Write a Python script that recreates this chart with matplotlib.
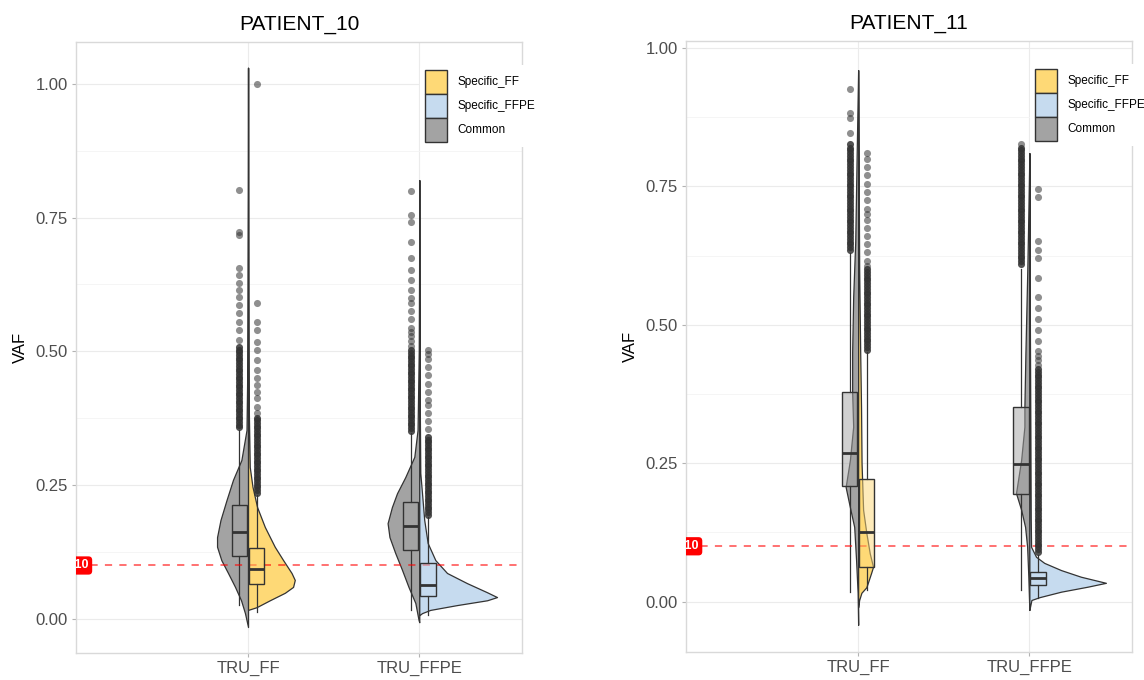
import numpy as np
import matplotlib.pyplot as plt
from matplotlib.patches import Patch, Rectangle
from matplotlib.colors import to_rgba

plt.rcParams['font.family'] = ['Liberation Sans', 'DejaVu Sans']

# categories
patients = ['PATIENT_10', 'PATIENT_11']
samples = ['TRU_FF', 'TRU_FFPE']
groups = ['Specific_FF', 'Specific_FFPE', 'Common']
colors = {'Specific_FF': '#FED976', 'Specific_FFPE': '#C6DBEF', 'Common': '#A3A3A3'}
threshold = 0.10

# half-violin outlines: VAF levels and half-widths (x units)
p10_ff_common_vaf = [1.03, 0.80, 0.60, 0.45, 0.353, 0.297, 0.260, 0.222, 0.185, 0.153, 0.135, 0.110, 0.086, 0.060, 0.035, 0.011, -0.015]
p10_ff_common_w = [0.0, 0.001, 0.003, 0.005, 0.009, 0.039, 0.088, 0.126, 0.161, 0.181, 0.181, 0.156, 0.117, 0.076, 0.041, 0.018, 0.0]
p10_ff_spec_vaf = [1.03, 0.80, 0.60, 0.40, 0.284, 0.247, 0.209, 0.172, 0.135, 0.110, 0.086, 0.073, 0.060, 0.049, 0.035, 0.022, 0.017]
p10_ff_spec_w = [0.0, 0.001, 0.002, 0.004, 0.010, 0.026, 0.053, 0.098, 0.156, 0.205, 0.254, 0.273, 0.263, 0.215, 0.127, 0.049, 0.0]
p10_ffpe_common_vaf = [0.82, 0.65, 0.50, 0.353, 0.303, 0.265, 0.235, 0.209, 0.179, 0.153, 0.123, 0.092, 0.060, 0.030, -0.002, -0.006]
p10_ffpe_common_w = [0.0, 0.001, 0.003, 0.010, 0.029, 0.082, 0.130, 0.160, 0.185, 0.174, 0.140, 0.101, 0.063, 0.023, 0.004, 0.0]
p10_ffpe_spec_vaf = [0.82, 0.60, 0.40, 0.273, 0.235, 0.185, 0.142, 0.110, 0.086, 0.067, 0.050, 0.041, 0.035, 0.026, 0.017, 0.011, 0.007]
p10_ffpe_spec_w = [0.0, 0.001, 0.003, 0.006, 0.016, 0.029, 0.049, 0.094, 0.162, 0.279, 0.396, 0.454, 0.396, 0.220, 0.064, 0.016, 0.0]

p11_ff_common_vaf = [0.96, 0.80, 0.65, 0.55, 0.45, 0.378, 0.316, 0.256, 0.207, 0.166, 0.135, 0.075, 0.016, -0.042]
p11_ff_common_w = [0.0, 0.009, 0.017, 0.029, 0.035, 0.035, 0.029, 0.048, 0.073, 0.045, 0.023, 0.012, 0.003, 0.0]
p11_ff_spec_vaf = [0.96, 0.60, 0.45, 0.35, 0.25, 0.166, 0.124, 0.087, 0.063, 0.052, 0.026, 0.016, 0.003, -0.01]
p11_ff_spec_w = [0.0, 0.006, 0.012, 0.017, 0.020, 0.029, 0.048, 0.068, 0.087, 0.076, 0.048, 0.019, 0.006, 0.0]
p11_ffpe_common_vaf = [0.81, 0.70, 0.60, 0.45, 0.352, 0.316, 0.256, 0.196, 0.166, 0.135, 0.099, 0.045, 0.003, -0.015]
p11_ffpe_common_w = [0.0, 0.006, 0.012, 0.023, 0.029, 0.029, 0.048, 0.078, 0.048, 0.025, 0.013, 0.006, 0.002, 0.0]
p11_ffpe_spec_vaf = [0.81, 0.50, 0.30, 0.15, 0.099, 0.081, 0.070, 0.057, 0.045, 0.034, 0.027, 0.018, 0.008, 0.003, -0.015]
p11_ffpe_spec_w = [0.0, 0.003, 0.006, 0.008, 0.010, 0.039, 0.087, 0.185, 0.301, 0.447, 0.340, 0.185, 0.058, 0.012, 0.0]

# boxplot stats [lower whisker, q1, median, q3, upper whisker] per sample
p10_common_box = [[0.026, 0.118, 0.162, 0.213, 0.353], [0.017, 0.129, 0.174, 0.218, 0.347]]
p10_spec_box = [[0.014, 0.065, 0.093, 0.133, 0.232], [0.007, 0.043, 0.064, 0.104, 0.191]]
p11_common_box = [[0.018, 0.209, 0.268, 0.378, 0.630], [0.021, 0.194, 0.248, 0.352, 0.600]]
p11_spec_box = [[0.021, 0.063, 0.125, 0.222, 0.450], [0.006, 0.030, 0.042, 0.054, 0.084]]

# outliers: densely stacked part and scattered part
p10_ff_common_dense = [0.358, 0.363, 0.368, 0.373, 0.378, 0.383, 0.388, 0.393, 0.398, 0.403, 0.408, 0.413,
                       0.418, 0.423, 0.428, 0.433, 0.438, 0.443, 0.448, 0.453, 0.458, 0.463, 0.468, 0.473,
                       0.478, 0.483, 0.488, 0.493, 0.498, 0.503, 0.508]
p10_ff_common_sparse = [0.521, 0.54, 0.555, 0.572, 0.587, 0.602, 0.615, 0.628, 0.643, 0.656, 0.717, 0.723, 0.801]
p10_ff_spec_dense = [0.236, 0.241, 0.246, 0.251, 0.256, 0.261, 0.266, 0.271, 0.276, 0.281, 0.286, 0.291,
                     0.296, 0.301, 0.306, 0.311, 0.316, 0.321, 0.326, 0.331, 0.336, 0.341, 0.346, 0.351,
                     0.356, 0.361, 0.366, 0.371, 0.376]
p10_ff_spec_sparse = [0.385, 0.396, 0.413, 0.424, 0.437, 0.45, 0.465, 0.484, 0.503, 0.517, 0.54, 0.555, 0.59, 0.999]
p10_ffpe_common_dense = [0.352, 0.357, 0.362, 0.367, 0.372, 0.377, 0.382, 0.387, 0.392, 0.397, 0.402, 0.407,
                         0.412, 0.417, 0.422, 0.427, 0.432, 0.437, 0.442, 0.447, 0.452, 0.457, 0.462, 0.467,
                         0.472, 0.477, 0.482, 0.487, 0.492, 0.497, 0.502]
p10_ffpe_common_sparse = [0.51, 0.52, 0.528, 0.536, 0.544, 0.56, 0.575, 0.59, 0.60, 0.615, 0.633, 0.652,
                          0.675, 0.704, 0.742, 0.755, 0.80]
p10_ffpe_spec_dense = [0.195, 0.2, 0.205, 0.21, 0.215, 0.22, 0.225, 0.23, 0.235, 0.24, 0.245, 0.25,
                       0.255, 0.26, 0.265, 0.27, 0.275, 0.28, 0.285, 0.29, 0.295, 0.3, 0.305, 0.31,
                       0.315, 0.32, 0.325, 0.33, 0.335, 0.34]
p10_ffpe_spec_sparse = [0.355, 0.37, 0.385, 0.40, 0.41, 0.425, 0.44, 0.455, 0.47, 0.485, 0.495, 0.502]
p11_ff_common_dense = [0.635, 0.64, 0.645, 0.65, 0.655, 0.66, 0.665, 0.67, 0.675, 0.68, 0.685, 0.69,
                       0.695, 0.7, 0.705, 0.71, 0.715, 0.72, 0.725, 0.73, 0.735, 0.74, 0.745, 0.75,
                       0.755, 0.76, 0.765, 0.77, 0.775, 0.78, 0.785, 0.79, 0.795, 0.8, 0.805, 0.81,
                       0.815, 0.82, 0.827]
p11_ff_common_sparse = [0.847, 0.874, 0.883, 0.925]
p11_ff_spec_dense = [0.455, 0.46, 0.465, 0.47, 0.475, 0.48, 0.485, 0.49, 0.495, 0.5, 0.505, 0.51,
                     0.515, 0.52, 0.525, 0.53, 0.535, 0.54, 0.545, 0.55, 0.555, 0.56, 0.565, 0.57,
                     0.575, 0.58, 0.585, 0.59, 0.595, 0.6]
p11_ff_spec_sparse = [0.607, 0.615, 0.632, 0.645, 0.66, 0.675, 0.69, 0.70, 0.71, 0.725, 0.74, 0.755,
                      0.77, 0.785, 0.80, 0.81]
p11_ffpe_common_dense = [0.61, 0.615, 0.62, 0.625, 0.63, 0.635, 0.64, 0.645, 0.65, 0.655, 0.66, 0.665,
                         0.67, 0.675, 0.68, 0.685, 0.69, 0.695, 0.7, 0.705, 0.71, 0.715, 0.72, 0.725,
                         0.73, 0.735, 0.74, 0.745, 0.75, 0.755, 0.76, 0.765, 0.77, 0.775, 0.78, 0.785,
                         0.79, 0.795, 0.8, 0.805, 0.81, 0.815, 0.82]
p11_ffpe_common_sparse = [0.826]
p11_ffpe_spec_dense = [0.090, 0.095, 0.100, 0.105, 0.110, 0.115, 0.120, 0.125, 0.130, 0.135, 0.140, 0.145,
                       0.150, 0.155, 0.160, 0.165, 0.170, 0.175, 0.180, 0.185, 0.190, 0.195, 0.200, 0.205,
                       0.210, 0.215, 0.220, 0.225, 0.230, 0.235, 0.240, 0.245, 0.250, 0.255, 0.260, 0.265,
                       0.270, 0.275, 0.280, 0.285, 0.290, 0.295, 0.300, 0.305, 0.310, 0.315, 0.320, 0.325,
                       0.330, 0.335, 0.340, 0.345, 0.350, 0.355, 0.360, 0.365, 0.370, 0.375, 0.380, 0.385,
                       0.390, 0.395, 0.400, 0.405, 0.410, 0.415, 0.420]
p11_ffpe_spec_sparse = [0.428, 0.436, 0.444, 0.452, 0.47, 0.49, 0.51, 0.53, 0.55, 0.585, 0.62, 0.635,
                        0.652, 0.73, 0.745]

EDGE = '#333333'
BOX_OFF = 0.05
BOX_W = 0.09


def draw_box(ax, x, stats, color):
    lo, q1, med, q3, hi = stats
    ax.plot([x, x], [lo, q1], color=EDGE, lw=0.9, zorder=3)
    ax.plot([x, x], [q3, hi], color=EDGE, lw=0.9, zorder=3)
    ax.add_patch(Rectangle((x - BOX_W / 2, q1), BOX_W, q3 - q1, facecolor=to_rgba(color, 0.5),
                           edgecolor=EDGE, lw=1.0, zorder=4))
    ax.plot([x - BOX_W / 2, x + BOX_W / 2], [med, med], color=EDGE, lw=2.0, zorder=5, solid_capstyle='butt')


def draw_outliers(ax, x, dense, sparse):
    ax.scatter(np.full(len(dense), x), dense, s=26, color=EDGE, alpha=0.85, lw=0, zorder=6)
    ax.scatter(np.full(len(sparse), x), sparse, s=26, color=EDGE, alpha=0.55, lw=0, zorder=6)


def draw_panel(ax, title, ylim, violins, common_box, spec_box, outs):
    for i, s in enumerate(samples):
        c = i + 1
        spec = groups[i]
        cv, cw, sv, sw = violins[i]
        ax.fill_betweenx(cv, c - np.array(cw), c, facecolor=colors['Common'], edgecolor=EDGE, lw=0.9, zorder=2)
        ax.fill_betweenx(sv, c, c + np.array(sw), facecolor=colors[spec], edgecolor=EDGE, lw=0.9, zorder=2)
        draw_box(ax, c - BOX_OFF, common_box[i], colors['Common'])
        draw_box(ax, c + BOX_OFF, spec_box[i], colors[spec])
        cd, cs, sd, ss = outs[i]
        draw_outliers(ax, c - BOX_OFF, cd, cs)
        draw_outliers(ax, c + BOX_OFF, sd, ss)

    ax.axhline(threshold, color='#ff0000', alpha=0.6, lw=1.3, ls=(0, (4, 4)), zorder=3)
    # threshold label, half hidden behind the left edge of the panel
    ax.text(0, threshold, f'{threshold:.2f}', ha='center', va='center', color='white', fontsize=9,
            fontweight='bold', zorder=7, clip_on=True,
            bbox=dict(boxstyle='round,pad=0.25,rounding_size=0.3', fc='#ff0000', ec='none'))

    ax.set_xlim(-0.005, 2.6)
    ax.set_ylim(*ylim)
    ax.set_xticks([1, 2])
    ax.set_xticklabels(samples)
    ax.set_yticks([0, 0.25, 0.5, 0.75, 1.0])
    ax.set_yticklabels(['0.00', '0.25', '0.50', '0.75', '1.00'])
    ax.set_yticks([0.125, 0.375, 0.625, 0.875], minor=True)
    ax.grid(True, which='major', color='#ebebeb', lw=0.8, zorder=0)
    ax.grid(True, which='minor', axis='y', color='#f4f4f4', lw=0.6, zorder=0)
    ax.set_axisbelow(True)
    ax.tick_params(which='major', length=3, color='#b3b3b3', labelsize=12, labelcolor='#4d4d4d', pad=3)
    ax.tick_params(which='minor', length=0)
    for sp in ax.spines.values():
        sp.set_color('#d9d9d9')
        sp.set_linewidth(1.0)
    ax.set_ylabel('VAF', fontsize=12, color='black', labelpad=5)
    ax.set_title(title, fontsize=15, pad=9)

    handles = [Patch(facecolor=colors[g], edgecolor=EDGE, lw=1.0, label=g) for g in groups]
    ax.legend(handles=handles, loc='upper left', bbox_to_anchor=(0.772, 0.962), frameon=True,
              facecolor='white', edgecolor='none', framealpha=1, fontsize=8.5, handlelength=1.85,
              handleheight=2.75, labelspacing=0.0, handletextpad=0.9, borderpad=0.4, borderaxespad=0)


fig = plt.figure(figsize=(11.44, 6.8), dpi=100)
ax1 = fig.add_axes([0.0664, 0.0397, 0.3899, 0.8985])
ax2 = fig.add_axes([0.5997, 0.0412, 0.3899, 0.8985])

draw_panel(ax1, patients[0], (-0.0635, 1.078),
           [(p10_ff_common_vaf, p10_ff_common_w, p10_ff_spec_vaf, p10_ff_spec_w),
            (p10_ffpe_common_vaf, p10_ffpe_common_w, p10_ffpe_spec_vaf, p10_ffpe_spec_w)],
           p10_common_box, p10_spec_box,
           [(p10_ff_common_dense, p10_ff_common_sparse, p10_ff_spec_dense, p10_ff_spec_sparse),
            (p10_ffpe_common_dense, p10_ffpe_common_sparse, p10_ffpe_spec_dense, p10_ffpe_spec_sparse)])
draw_panel(ax2, patients[1], (-0.0909, 1.0125),
           [(p11_ff_common_vaf, p11_ff_common_w, p11_ff_spec_vaf, p11_ff_spec_w),
            (p11_ffpe_common_vaf, p11_ffpe_common_w, p11_ffpe_spec_vaf, p11_ffpe_spec_w)],
           p11_common_box, p11_spec_box,
           [(p11_ff_common_dense, p11_ff_common_sparse, p11_ff_spec_dense, p11_ff_spec_sparse),
            (p11_ffpe_common_dense, p11_ffpe_common_sparse, p11_ffpe_spec_dense, p11_ffpe_spec_sparse)])

fig.savefig('out.png', dpi=100)
